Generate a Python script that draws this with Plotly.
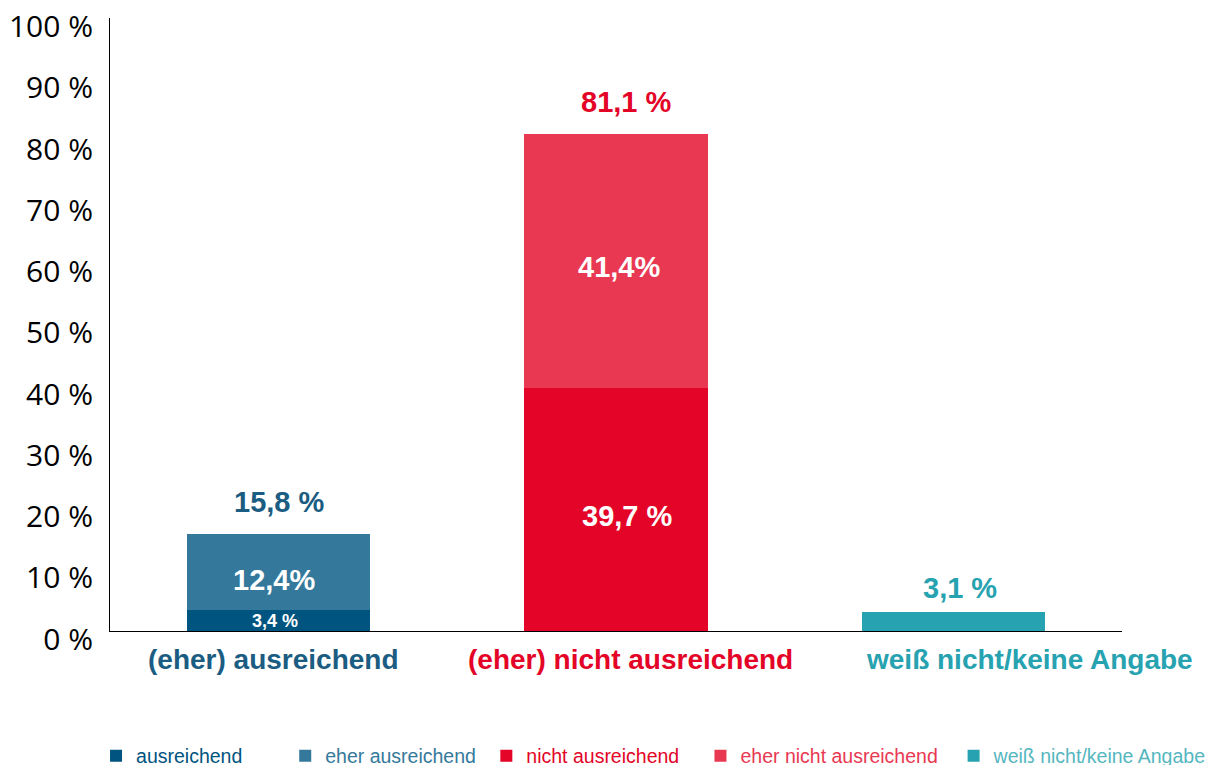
import plotly.graph_objects as go

categories = ["(eher) ausreichend", "(eher) nicht ausreichend", "weiß nicht/keine Angabe"]
cat_colors = ["#1B5C82", "#E30427", "#27A2B0"]
cat_xshift = [-5, 14, 76]

series_names = ["ausreichend", "eher ausreichend", "nicht ausreichend", "eher nicht ausreichend", "weiß nicht/keine Angabe"]
series_colors = ["#005480", "#34799B", "#E30427", "#E93852", "#27A2B0"]
legend_text_colors = ["#005480", "#34799B", "#E30427", "#E93852", "#55B6C0"]
legend_pad = [7, 1, 3, 2, 0]
series_values = [
    [3.4, None, None],
    [12.4, None, None],
    [None, 39.7, None],
    [None, 41.4, None],
    [None, None, 3.1],
]
series_labels = [
    ["3,4 %", "", ""],
    ["12,4%", "", ""],
    ["", "39,7 %", ""],
    ["", "41,4%", ""],
    ["", "", ""],
]
label_sizes = [18, 29, 29, 29, 29]
label_yshift = [0, -8, -7, -6, 0]
label_xshift = [-4, -5, 11, 3, 0]

totals = [15.8, 81.1, 3.1]
total_labels = ["15,8 %", "81,1 %", "3,1 %"]
total_yshift = [32, 32, 24]
total_xshift = [1, 10, 7]

y_ticks = [0, 10, 20, 30, 40, 50, 60, 70, 80, 90, 100]
y_ticktext = ["0 %", "10 %", "20 %", "30 %", "40 %", "50 %", "60 %", "70 %", "80 %", "90 %", "100 %"]

fig = go.Figure()
for name, col, tcol, pad, vals in zip(series_names, series_colors, legend_text_colors,
                                      legend_pad, series_values):
    fig.add_trace(go.Bar(
        x=categories, y=vals,
        name=f'<span style="color:{tcol}">{name}</span>' + "\u00a0" * pad,
        marker=dict(color=col, line=dict(width=0)),
        hoverinfo="skip",
    ))

# inside segment labels, placed at segment middles computed from the data
base = [0.0, 0.0, 0.0]
for vals, labs, ls, ys, xs in zip(series_values, series_labels, label_sizes, label_yshift, label_xshift):
    for i, (cat, v, lab) in enumerate(zip(categories, vals, labs)):
        if v is None:
            continue
        if lab:
            fig.add_annotation(x=cat, y=base[i] + v / 2, text=f"<b>{lab}</b>", showarrow=False,
                               yshift=ys, xshift=xs,
                               font=dict(color="white", size=ls, family="Liberation Sans"))
        base[i] += v

for cat, tot, lab, col, ys, xs in zip(categories, totals, total_labels, cat_colors, total_yshift, total_xshift):
    fig.add_annotation(x=cat, y=tot, text=f"<b>{lab}</b>", showarrow=False, yshift=ys, xshift=xs,
                       font=dict(color=col, size=29, family="Liberation Sans"))

# category labels under the axis
for cat, col, xs in zip(categories, cat_colors, cat_xshift):
    fig.add_annotation(x=cat, y=0, text=f"<b>{cat}</b>", showarrow=False, yshift=-28, xshift=xs,
                       font=dict(color=col, size=28, family="Liberation Sans"))

fig.update_layout(
    barmode="stack",
    bargap=0.457,
    width=1214, height=765,
    margin=dict(l=102, r=100, t=10, b=142, autoexpand=False),
    paper_bgcolor="white", plot_bgcolor="white",
    showlegend=True,
    legend=dict(orientation="h", x=-0.0138, xanchor="left", y=-0.204,
                yanchor="middle", font=dict(size=19.5, family="Liberation Sans"), itemwidth=30,
                traceorder="normal"),
    xaxis=dict(
        type="category", range=[-0.5, len(categories) - 0.5],
        tickmode="array", tickvals=categories, showticklabels=False,
        showline=True, linecolor="black", linewidth=1, ticks="", showgrid=False,
        automargin=False,
    ),
    yaxis=dict(
        range=[0, 100.1], tickmode="array", tickvals=y_ticks, ticktext=y_ticktext,
        tickfont=dict(size=30, family="Open Sans", color="black"),
        showline=True, linecolor="black", linewidth=1, ticks="", showgrid=False,
        zeroline=False, ticklabelstandoff=10, ticklabelshift=8, automargin=False,
        ticklabeloverflow="allow",
    ),
)

fig.write_html("out.html")
